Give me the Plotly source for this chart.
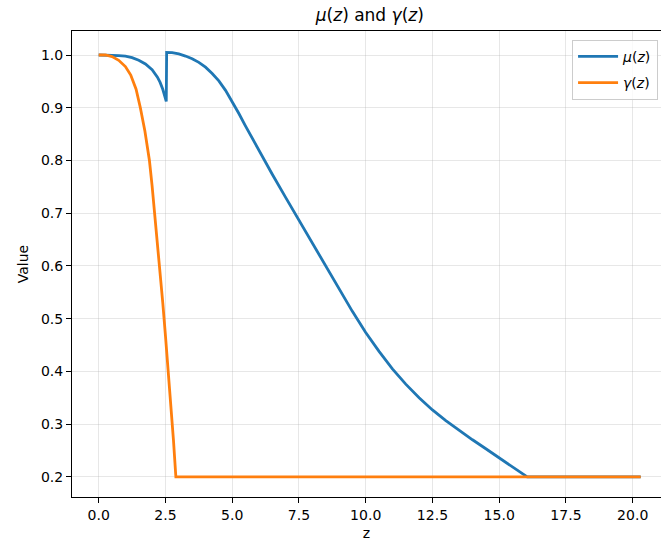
import plotly.graph_objects as go

# mu(z) samples
mu_z = [0.0, 0.5, 0.75, 1.0, 1.25, 1.5, 1.75, 2.0, 2.1, 2.2, 2.3, 2.4, 2.53, 2.545,
        2.75, 3.0, 3.25, 3.5, 3.75, 4.0, 4.25, 4.5, 4.75, 5.0, 5.25, 5.5, 6.0, 6.5, 7.0,
        7.5, 8.0, 8.5, 9.0, 9.5, 10.0, 10.5, 11.0, 11.5, 12.0, 12.5, 13.0, 13.5, 14.0,
        14.5, 15.0, 15.5, 16.05, 18.0, 20.3]
mu_v = [1.000, 1.000, 0.999, 0.998, 0.995, 0.990, 0.983, 0.972, 0.966, 0.958, 0.948, 0.935, 0.912, 1.005,
        1.0045, 1.002, 0.998, 0.993, 0.986, 0.977, 0.965, 0.951, 0.933, 0.912, 0.889, 0.865, 0.818, 0.774, 0.730,
        0.687, 0.643, 0.599, 0.556, 0.514, 0.474, 0.438, 0.405, 0.376, 0.350, 0.327, 0.307, 0.2885, 0.2705,
        0.2535, 0.236, 0.2185, 0.200, 0.200, 0.200]

# gamma(z) samples
ga_z = [0.0, 0.25, 0.5, 0.75, 1.0, 1.2, 1.4, 1.56, 1.73, 1.9, 2.0, 2.1, 2.2, 2.3, 2.4, 2.5,
        2.6, 2.7, 2.8, 2.89, 5.0, 20.3]
ga_v = [1.000, 1.000, 0.997, 0.990, 0.978, 0.962, 0.935, 0.900, 0.856, 0.800, 0.752, 0.700, 0.646, 0.590,
        0.530, 0.468, 0.404, 0.338, 0.270, 0.200, 0.200, 0.200]

x_ticks = [0, 2.5, 5, 7.5, 10, 12.5, 15, 17.5, 20]
x_tick_text = ["0.0", "2.5", "5.0", "7.5", "10.0", "12.5", "15.0", "17.5", "20.0"]
y_ticks = [0.2, 0.3, 0.4, 0.5, 0.6, 0.7, 0.8, 0.9, 1.0]
y_tick_text = ["0.2", "0.3", "0.4", "0.5", "0.6", "0.7", "0.8", "0.9", "1.0"]

FONT = "DejaVu Sans"

fig = go.Figure()
fig.add_trace(go.Scatter(x=mu_z, y=mu_v, mode="lines", name="<i>μ</i>(<i>z</i>)",
                         legendgroup="mu",
                         line=dict(color="#1f77b4", width=2.8)))
fig.add_trace(go.Scatter(x=ga_z, y=ga_v, mode="lines", name="<i>γ</i>(<i>z</i>)",
                         legendgroup="gamma",
                         line=dict(color="#ff7f0e", width=2.8)))

grid = "rgba(176,176,176,0.3)"
fig.update_layout(
    width=661, height=546,
    margin=dict(l=72, r=0, t=31, b=49, autoexpand=False),
    paper_bgcolor="white", plot_bgcolor="white",
    font=dict(family=FONT, size=14, color="black"),
    title=dict(text="<i>μ</i>(<i>z</i>) and <i>γ</i>(<i>z</i>)", x=(72 + 661) / 2 / 661 + 0.005,
               xanchor="center", y=1 - 15 / 546, yanchor="middle",
               font=dict(family=FONT, size=17)),
    showlegend=True,
    legend=dict(x=0.995, y=0.981, xanchor="right", yanchor="top",
                traceorder="grouped", tracegroupgap=5, itemwidth=40,
                bgcolor="rgba(255,255,255,0.8)", bordercolor="#cccccc", borderwidth=1,
                font=dict(family=FONT, size=14)),
    xaxis=dict(range=[-1.0, 21.06], tickvals=x_ticks, ticktext=x_tick_text,
               showgrid=True, gridcolor=grid, gridwidth=1.1, zeroline=False,
               showline=True, linecolor="black", linewidth=1.1, mirror=True,
               ticks="outside", ticklen=5, tickwidth=1.1, tickcolor="black",
               title=dict(text="z", standoff=6, font=dict(family=FONT, size=14))),
    yaxis=dict(range=[0.162, 1.0455], tickvals=y_ticks, ticktext=y_tick_text,
               showgrid=True, gridcolor=grid, gridwidth=1.1, zeroline=False,
               showline=True, linecolor="black", linewidth=1.1, mirror=False,
               ticks="outside", ticklen=5, tickwidth=1.1, tickcolor="black",
               title=dict(text="Value", standoff=8, font=dict(family=FONT, size=14))),
)

fig.write_html("out.html", config={"displayModeBar": False},
               post_script="document.body.style.margin='0';document.body.style.padding='0';")
